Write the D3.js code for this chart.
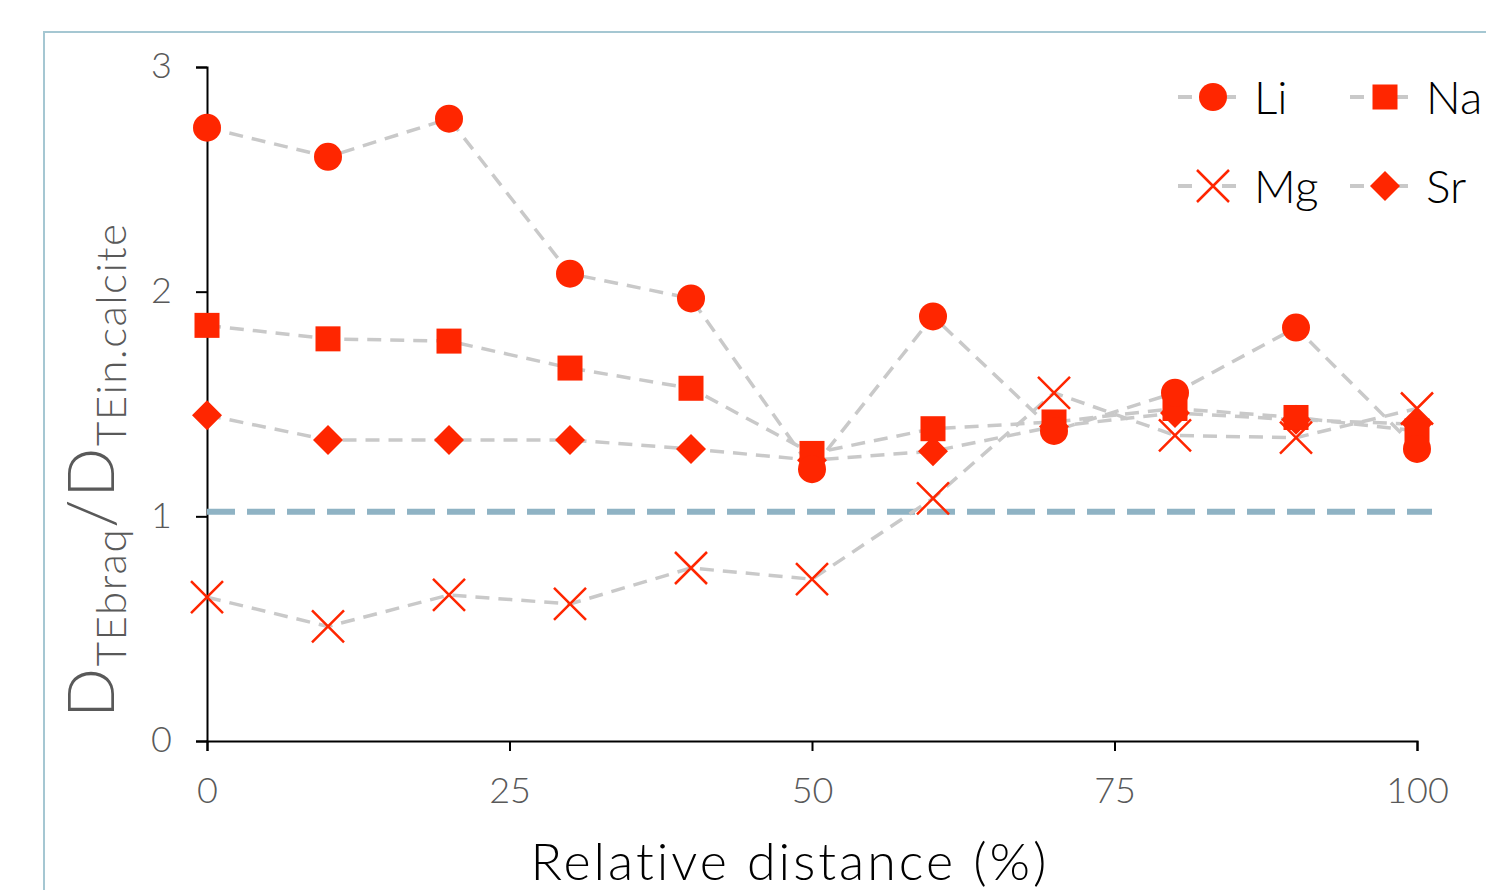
<!DOCTYPE html>
<html>
<head>
<meta charset="utf-8">
<script src="https://cdn.jsdelivr.net/npm/d3@7"></script>
<style>
  body { margin: 0; background: #fff; overflow: hidden; }
  svg { display: block; }
</style>
</head>
<body>
<div id="chart"></div>
<script>
const width = 1486;
const height = 890;

// data
const distance = [0, 10, 20, 30, 40, 50, 60, 70, 80, 90, 100];
const li = [2.73, 2.60, 2.77, 2.08, 1.97, 1.21, 1.89, 1.38, 1.55, 1.84, 1.30];
const na = [1.85, 1.79, 1.78, 1.66, 1.57, 1.28, 1.39, 1.42, 1.48, 1.44, 1.38];
const mg = [0.64, 0.51, 0.65, 0.61, 0.77, 0.72, 1.08, 1.55, 1.36, 1.35, 1.48];
const sr = [1.45, 1.34, 1.34, 1.34, 1.30, 1.25, 1.29, 1.40, 1.46, 1.43, 1.41];
const refLevel = 1.02;
const xTicks = [0, 25, 50, 75, 100];
const yTicks = [0, 1, 2, 3];

const series = [
  { name: "Li", values: li, symbol: "circle" },
  { name: "Na", values: na, symbol: "square" },
  { name: "Mg", values: mg, symbol: "cross" },
  { name: "Sr", values: sr, symbol: "diamond" }
];

const red = "#ff2600";
const grey = "#c9c9c9";
const tickGrey = "#595959";
const font = "Lato, 'Noto Sans', sans-serif";

const svg = d3.select("#chart").append("svg")
  .attr("width", width)
  .attr("height", height);

// outer frame (runs off the right/bottom of the picture)
svg.append("rect")
  .attr("x", 44).attr("y", 32)
  .attr("width", 1600).attr("height", 1000)
  .attr("fill", "none")
  .attr("stroke", "#a5c7d2")
  .attr("stroke-width", 2);

const x = d3.scaleLinear().domain([0, 100]).range([207, 1417]);
const y = d3.scaleLinear().domain([0, 3]).range([741, 67]);

// axes
const xAxis = svg.append("g")
  .attr("transform", "translate(0," + y(0) + ")")
  .call(d3.axisBottom(x).tickValues(xTicks).tickSize(10).tickPadding(20));
const yAxis = svg.append("g")
  .attr("transform", "translate(" + x(0) + ",0)")
  .call(d3.axisLeft(y).tickValues(yTicks).tickFormat(d3.format("d")).tickSize(11).tickPadding(24));

[xAxis, yAxis].forEach(function(a) {
  a.select(".domain").attr("stroke", "#000").attr("stroke-width", 2);
  a.selectAll(".tick line").attr("stroke", "#000").attr("stroke-width", 2);
  a.selectAll(".tick text")
    .attr("fill", tickGrey)
    .attr("font-family", font)
    .attr("font-weight", 300)
    .attr("font-size", "36px");
});
xAxis.selectAll(".tick text").attr("dy", "0.9em");
yAxis.selectAll(".tick text").attr("dy", "0.3em");

// reference line
svg.append("line")
  .attr("x1", x(0)).attr("x2", 1432)
  .attr("y1", y(refLevel)).attr("y2", y(refLevel))
  .attr("stroke", "#8fb3c4")
  .attr("stroke-width", 6)
  .attr("stroke-dasharray", "28,12");

const line = d3.line()
  .x(function(d, i) { return x(distance[i]); })
  .y(function(d) { return y(d); });

function drawMarker(g, symbol) {
  if (symbol === "circle") {
    g.append("circle").attr("r", 14).attr("fill", red);
  } else if (symbol === "square") {
    g.append("rect").attr("x", -12.5).attr("y", -12.5)
      .attr("width", 25).attr("height", 25).attr("fill", red);
  } else if (symbol === "diamond") {
    g.append("path").attr("d", "M0,-15L15,0L0,15L-15,0Z").attr("fill", red);
  } else {
    g.append("path").attr("d", "M-16,-16L16,16M-16,16L16,-16")
      .attr("stroke", red).attr("stroke-width", 2.5).attr("fill", "none");
  }
}

// connecting lines first
series.forEach(function(s) {
  svg.append("path")
    .datum(s.values)
    .attr("d", line)
    .attr("fill", "none")
    .attr("stroke", grey)
    .attr("stroke-width", 3.5)
    .attr("stroke-dasharray", "14,9");
});

// markers (draw order: Sr, Na, Li, Mg roughly like the picture)
["Sr", "Na", "Li", "Mg"].forEach(function(name) {
  const s = series.find(function(d) { return d.name === name; });
  svg.append("g").selectAll("g")
    .data(s.values)
    .enter().append("g")
    .attr("transform", function(d, i) { return "translate(" + x(distance[i]) + "," + y(d) + ")"; })
    .each(function() { drawMarker(d3.select(this), s.symbol); });
});

// legend
const legendPos = [[1178, 97], [1350, 97], [1178, 186], [1350, 186]];
series.forEach(function(s, i) {
  const lg = svg.append("g").attr("transform", "translate(" + legendPos[i][0] + "," + legendPos[i][1] + ")");
  lg.append("line").attr("x1", 0).attr("x2", 70)
    .attr("stroke", grey).attr("stroke-width", 4)
    .attr("stroke-dasharray", "14,30");
  drawMarker(lg.append("g").attr("transform", "translate(35,0)"), s.symbol);
  lg.append("text")
    .attr("x", 76).attr("y", 0)
    .attr("dy", "0.36em")
    .attr("font-family", font)
    .attr("font-weight", 300)
    .attr("font-size", "46px")
    .attr("fill", "#000")
    .text(s.name);
});

// axis titles
svg.append("text")
  .attr("x", 790).attr("y", 880)
  .attr("text-anchor", "middle")
  .attr("font-family", font)
  .attr("font-weight", 300)
  .attr("font-size", "52px")
  .attr("letter-spacing", "3px")
  .attr("fill", "#000")
  .text("Relative distance (%)");

const yTitle = svg.append("text")
  .attr("transform", "translate(114,718) rotate(-90)")
  .attr("font-family", font)
  .attr("font-weight", 300)
  .attr("letter-spacing", "1.5px")
  .attr("fill", tickGrey);
yTitle.append("tspan").attr("font-size", "66px").text("D");
yTitle.append("tspan").attr("font-size", "42px").attr("dy", 12).text("TEbraq");
yTitle.append("tspan").attr("font-size", "66px").attr("dy", -12).text("/D");
yTitle.append("tspan").attr("font-size", "42px").attr("dy", 12).text("TEin.calcite");
</script>
</body>
</html>
